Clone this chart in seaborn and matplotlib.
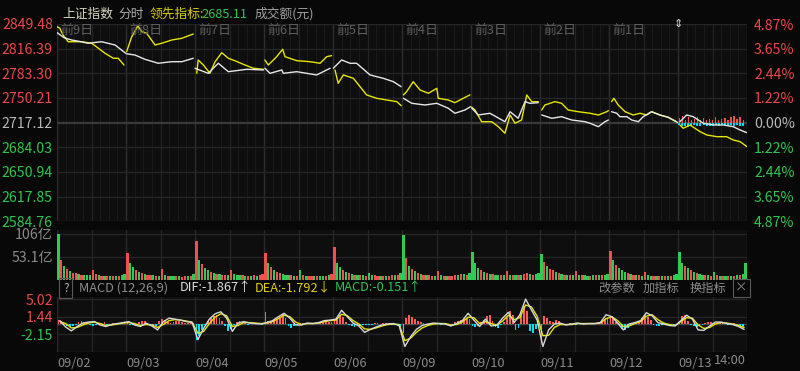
import numpy as np
import pandas as pd
import matplotlib
matplotlib.use("Agg")
import matplotlib.pyplot as plt
import seaborn as sns

sns.set_theme(style="dark")
plt.rcParams['font.family'] = ['Noto Sans CJK SC', 'DejaVu Sans']
plt.rcParams['axes.unicode_minus'] = False

# ---------------- data ----------------
day_labels = ['09/02', '09/03', '09/04', '09/05', '09/06', '09/09', '09/10', '09/11', '09/12', '09/13']
prev_labels = ['前9日', '前8日', '前7日', '前6日', '前5日', '前4日', '前3日', '前2日', '前1日']
price_ticks = [2849.48, 2816.39, 2783.30, 2750.21, 2717.12, 2684.03, 2650.94, 2617.85, 2584.76]
pct_labels = ['4.87%', '3.65%', '2.44%', '1.22%', '0.00%', '1.22%', '2.44%', '3.65%', '4.87%']
base_price = 2717.12

# 上证指数 (white), minute index over 10 sessions (240 min each)
idx_t = [0, 25, 51, 80, 108, 155, 202, 239,
         242, 271, 306, 352, 399, 434, 474,
         480, 526, 561, 596, 660, 718,
         723, 741, 782, 787, 834, 903, 950,
         961, 990, 1019, 1042, 1089, 1135, 1170, 1197,
         1205, 1234, 1280, 1321, 1361, 1384, 1419, 1438,
         1442, 1465, 1506, 1558, 1576, 1604, 1628, 1645, 1674,
         1686, 1721, 1755, 1790, 1836, 1854, 1883, 1906, 1918,
         1929, 1947, 1958, 1982, 1999, 2022, 2039, 2068, 2097, 2126, 2159,
         2167, 2190, 2213, 2248, 2283, 2318, 2352, 2376, 2399]
idx_v = [2838.0, 2831.0, 2828.0, 2826.0, 2823.6, 2825.7, 2821.3, 2810.2,
         2809.5, 2807.9, 2802.1, 2796.8, 2798.9, 2798.9, 2803.5,
         2790.1, 2783.3, 2796.8, 2785.5, 2788.7, 2787.8,
         2790.1, 2783.3, 2787.8, 2783.3, 2785.5, 2781.1, 2790.1,
         2790.1, 2801.2, 2796.8, 2796.8, 2781.1, 2776.6, 2772.1, 2765.4,
         2749.8, 2743.1, 2740.8, 2743.1, 2736.4, 2729.7, 2734.1, 2738.5,
         2737.0, 2727.4, 2729.7, 2718.4, 2731.8, 2723.0, 2745.3, 2743.1, 2743.9,
         2727.4, 2723.0, 2725.1, 2720.7, 2718.4, 2716.3, 2711.7, 2718.4, 2720.7,
         2731.8, 2729.7, 2725.1, 2725.1, 2720.7, 2718.4, 2725.1, 2731.8, 2727.4, 2724.3, 2717.1,
         2718.4, 2727.4, 2725.1, 2716.3, 2714.0, 2714.0, 2711.7, 2707.3, 2703.7]

# 领先指标 (yellow)
lead_t = [0, 10, 21, 39, 86, 121, 144, 167, 196, 213, 233,
          242, 260, 281, 295, 312, 341, 364, 399, 434, 474,
          486, 491, 509, 532, 550, 573, 596, 620, 648, 683, 718,
          723, 735, 764, 785, 793, 834, 880, 915, 938, 955,
          967, 978, 996, 1031, 1077, 1112, 1147, 1182, 1197,
          1205, 1216, 1239, 1263, 1292, 1321, 1326, 1361, 1384, 1413, 1436,
          1442, 1454, 1477, 1512, 1535, 1558, 1576, 1593, 1616, 1634, 1651, 1674,
          1686, 1697, 1732, 1755, 1778, 1813, 1854, 1883, 1912, 1918,
          1929, 1937, 1952, 1976, 2004, 2028, 2051, 2068, 2097, 2126, 2155,
          2167, 2178, 2202, 2237, 2260, 2295, 2329, 2352, 2376, 2399]
lead_v = [2845.9, 2843.7, 2834.7, 2825.7, 2825.7, 2823.6, 2816.9, 2810.2, 2803.5, 2803.5, 2794.5,
          2812.3, 2832.4, 2846.8, 2839.2, 2837.0, 2821.3, 2823.6, 2828.0, 2830.3, 2836.1,
          2783.3, 2801.2, 2794.5, 2783.3, 2798.9, 2811.0, 2803.5, 2800.0, 2795.4, 2790.1, 2788.7,
          2801.2, 2794.5, 2805.6, 2815.6, 2805.6, 2800.3, 2798.9, 2796.8, 2805.6, 2807.0,
          2787.8, 2769.9, 2781.1, 2776.6, 2754.3, 2749.8, 2747.5, 2745.3, 2739.9,
          2754.3, 2758.7, 2772.1, 2760.9, 2756.5, 2763.2, 2749.8, 2747.5, 2743.9, 2749.8, 2754.3,
          2738.0, 2734.1, 2718.4, 2718.4, 2711.7, 2702.9, 2727.4, 2716.3, 2720.7, 2754.3, 2745.3, 2745.3,
          2734.1, 2740.8, 2745.3, 2743.1, 2734.1, 2731.8, 2729.7, 2727.4, 2731.8, 2733.2,
          2745.3, 2749.8, 2740.8, 2731.8, 2727.4, 2729.7, 2727.4, 2731.8, 2727.4, 2724.3, 2718.4,
          2713.9, 2709.6, 2713.9, 2705.0, 2700.6, 2698.3, 2698.3, 2693.9, 2691.6, 2685.11]

# last-session buy / sell bars around the base line (points)
buy_bars = [6, 9, 4, 7, 3, 5, 8, 4, 6, 3, 5, 4, 7, 3, 5, 6, 4, 7, 9, 5, 8, 4]
sell_bars = [-3, -5, -4, -6, -4, -3, -5, -4, -3, -4, -5, -4, -3, -4, -3, -4, -5, -3, -4, -3, -4, -5]

# 成交额 (亿), 24 buckets per session
vol_d1 = [106, 45, 32, 26, 20, 17, 15, 13, 12, 12, 11, 11, 22, 13, 11, 10, 10, 9, 9, 10, 9, 10, 11, 14]
vol_d2 = [63, 38, 30, 24, 19, 15, 13, 12, 11, 11, 10, 10, 26, 12, 10, 10, 9, 9, 9, 8, 9, 9, 10, 13]
vol_d3 = [90, 45, 36, 28, 22, 18, 15, 14, 13, 12, 12, 11, 24, 13, 12, 11, 11, 10, 10, 10, 11, 10, 11, 14]
vol_d4 = [63, 40, 30, 24, 19, 16, 14, 12, 11, 11, 10, 10, 23, 12, 10, 10, 9, 9, 9, 9, 10, 10, 11, 14]
vol_d5 = [75, 40, 30, 24, 19, 15, 13, 12, 12, 11, 11, 10, 16, 12, 11, 10, 10, 10, 10, 10, 11, 11, 12, 15]
vol_d6 = [103, 50, 32, 26, 20, 16, 14, 12, 11, 11, 10, 10, 20, 11, 10, 10, 10, 10, 11, 12, 14, 13, 12, 15]
vol_d7 = [65, 38, 28, 24, 19, 16, 14, 13, 12, 11, 11, 11, 20, 12, 12, 11, 11, 12, 14, 16, 13, 12, 13, 16]
vol_d8 = [60, 42, 32, 26, 22, 18, 15, 13, 12, 12, 11, 11, 20, 12, 11, 11, 10, 10, 11, 11, 12, 11, 11, 13]
vol_d9 = [67, 45, 34, 27, 22, 18, 15, 13, 12, 11, 11, 10, 19, 11, 10, 10, 10, 9, 10, 10, 10, 10, 11, 14]
vol_d10 = [65, 40, 32, 27, 22, 18, 15, 13, 12, 11, 11, 10, 18, 11, 10, 10, 10, 10, 10, 10, 11, 11, 13, 40]
vol_dir = ['grgrgrrg' + 'rgggrrgr' + 'grgrgrgg',
           'rggrgrgr' + 'rgrgrgrg' + 'grgrrgrg',
           'rgrggrgr' + 'grrgrggg' + 'rgrgrgrr',
           'rgrgrrgg' + 'grgrgrgr' + 'rgrggrgr',
           'rggrgrgr' + 'grgrggrr' + 'grgrrgrg',
           'grgrgrgr' + 'grrgrgrg' + 'rrrgrgrg',
           'gggrgrgr' + 'ggrgrgrg' + 'rgrrgrgg',
           'grgrrgrg' + 'rgrgrgrg' + 'grgrgrgg',
           'rgrgggrg' + 'rgrgrggr' + 'grgrgrgg',
           'ggrgrgrg' + 'grgrgrgr' + 'grgrgrgg']

# MACD: DIF / DEA (12 samples per session), histogram (24 per session)
dif_d = [[0.6, -0.7, -1.5, -0.6, 0.1, 0.3, 0.4, -0.3, -0.6, -0.2, 0.0, 0.2],
         [0.4, -0.3, -0.6, 0.1, -0.5, -1.3, 0.4, 1.1, 0.9, 0.7, 0.4, 0.2],
         [-3.3, -1.0, 0.9, 2.0, 2.4, 1.1, -1.6, 0.1, 0.4, 0.1, 0.0, -0.1],
         [0.2, 0.6, 1.4, 2.1, 1.1, -0.3, -0.3, 0.1, 0.0, 0.2, 0.6, 0.7],
         [0.9, 2.7, 1.4, 0.1, -0.5, -1.8, -1.2, -0.7, -0.3, -0.1, 0.0, -0.4],
         [-4.7, -2.7, -1.2, -0.4, -0.1, 0.1, 0.0, -0.1, -0.5, 0.0, 0.6, 2.1],
         [0.7, -0.6, 0.9, -0.5, -0.3, 1.1, 2.3, 0.2, 1.8, 5.0, 2.8, 0.7],
         [-4.7, -1.3, -0.1, 0.1, -0.3, -0.1, 0.1, -0.1, 0.0, 0.0, 0.2, 1.8],
         [1.4, 0.1, -1.3, -0.1, 0.2, 0.6, 2.2, 1.6, 0.2, -0.1, -0.4, -0.5],
         [0.6, 1.7, 0.9, -1.3, -1.4, -0.5, 0.3, 0.3, 0.0, -0.2, -0.6, -1.2]]
dea_d = [[0.4, 0.0, -0.9, -0.8, -0.3, 0.1, 0.3, 0.0, -0.4, -0.3, -0.1, 0.1],
         [0.2, 0.0, -0.4, -0.2, -0.3, -0.8, -0.2, 0.6, 0.8, 0.7, 0.5, 0.3],
         [-2.0, -1.6, 0.0, 1.3, 2.0, 1.6, -0.6, -0.4, 0.2, 0.2, 0.1, 0.0],
         [0.1, 0.4, 1.0, 1.7, 1.4, 0.3, -0.2, 0.0, 0.0, 0.1, 0.4, 0.6],
         [0.7, 1.9, 1.6, 0.6, -0.1, -1.1, -1.2, -0.9, -0.5, -0.2, -0.1, -0.2],
         [-3.5, -3.0, -1.8, -0.9, -0.4, -0.1, 0.0, 0.0, -0.3, -0.2, 0.3, 1.3],
         [1.2, 0.0, 0.4, 0.0, -0.3, 0.5, 1.7, 0.8, 1.2, 3.8, 3.4, 1.5],
         [-2.5, -2.4, -0.8, -0.2, -0.2, -0.2, 0.0, 0.0, 0.0, 0.0, 0.1, 1.0],
         [1.4, 0.6, -0.6, -0.5, 0.0, 0.4, 1.5, 1.8, 0.8, 0.1, -0.2, -0.4],
         [0.4, 1.2, 1.1, -0.3, -1.0, -0.8, -0.1, 0.2, 0.1, -0.1, -0.4, -0.8]]
hist_d = [[0.8, 0.6, 0.2, -0.5, -0.8, -0.6, -0.2, 0.3, 0.5, 0.4, 0.2, -0.2, -0.5, -0.4, -0.1, 0.2, 0.3, -0.2, -0.3, 0.1, 0.2, 0.1, 0.2, 0.3],
          [0.3, -0.2, -0.4, -0.3, 0.3, 0.6, 0.5, -0.3, -0.5, -0.8, -0.5, 0.5, 0.9, 0.7, 0.4, 0.2, 0.3, 0.5, 0.6, 0.3, 0.1, 0.2, 0.1, 0.1],
          [-3.3, -2.6, -1.4, -0.4, 0.6, 1.2, 1.6, 1.8, 1.2, 0.6, -0.5, -1.6, -1.2, -0.4, 0.3, 0.5, 0.3, 0.1, -0.2, -0.1, 0.1, 0.2, -0.1, -0.2],
          [2.4, 0.6, 0.3, 0.5, 0.8, 1.4, 2.0, 1.2, -0.6, -1.0, -0.6, -0.2, 0.1, 0.2, 0.1, -0.1, 0.1, 0.2, 0.1, 0.2, 0.4, 0.5, 0.4, 0.3],
          [0.6, 1.2, 1.8, 1.3, 0.4, -0.3, -0.6, -0.8, -0.6, -0.5, -0.3, -0.2, -0.4, -0.2, 0.2, 0.1, -0.1, 0.1, 0.2, 0.1, -0.2, -0.4, -0.6, -0.8],
          [-2.0, 1.2, 1.8, 1.4, 1.0, 0.6, 0.3, 0.2, -0.2, -0.3, 0.1, 0.2, 0.1, -0.2, 0.1, 0.2, -0.4, -0.6, 0.3, 0.5, 0.8, 0.9, 1.2, 1.0],
          [-0.5, -0.8, -0.6, 0.3, 0.8, 1.6, 1.8, 0.5, -0.7, -0.9, -0.3, 0.4, 1.6, 2.5, 1.8, -1.3, -0.9, 1.8, 3.5, 2.6, -1.6, -2.0, -1.2, -0.6],
          [-4.0, 1.6, 1.2, 0.6, 0.3, 0.8, 0.5, 0.2, -0.3, -0.2, 0.1, 0.2, -0.2, -0.1, 0.1, 0.2, 0.1, -0.1, 0.1, 0.2, 0.4, 0.6, 0.9, 1.2],
          [1.6, 1.2, 0.3, -0.4, -1.1, -1.3, -0.9, -0.2, 0.2, 0.3, 0.6, 1.2, 1.8, 1.4, 0.8, -0.2, -0.5, -0.6, -0.4, -0.2, -0.1, -0.2, -0.3, -0.2],
          [0.5, 1.6, 1.8, 0.6, -0.3, -0.6, -0.8, -0.6, -0.2, 0.2, 0.4, 0.3, 0.2, 0.1, 0.2, 0.1, -0.1, -0.2, -0.1, 0.2, -0.3, -0.6, -0.8, -0.15]]
macd_ticks = [5.02, 1.44, -2.15]
vol_ticks = [106, 53.1]
vol_tick_labels = ['106亿', '53.1亿']

# ---------------- style ----------------
BG = '#080808'
PANEL = '#0e0e0e'
RED = '#e84848'
GREEN = '#2fc452'
GRAY = '#b8b8b8'
DIM = '#8a8a8a'
YEL = '#e6e600'
WHITE = '#e6e6e6'
SESSION = 240
NDAYS = 10
TOTAL = SESSION * NDAYS
AX_FS = 10.2

W, H = 800, 371
fig = plt.figure(figsize=(W / 100, H / 100), dpi=100, facecolor=BG)


def axes_px(x0, y0, x1, y1):
    return fig.add_axes([x0 / W, 1 - y1 / H, (x1 - x0) / W, (y1 - y0) / H])


def style_axes(ax):
    ax.set_facecolor(PANEL)
    for s in ax.spines.values():
        s.set_visible(False)
    ax.grid(False)
    ax.set_xlim(0, TOTAL)
    ax.set_xlabel('')
    ax.set_ylabel('')


def vgrid(ax, step, major_col, minor_col, half_col):
    for m in range(0, TOTAL + 1, step):
        if m % SESSION == 0:
            c, lw = major_col, 1.0
        elif m % (SESSION // 2) == 0:
            c, lw = half_col, 0.9
        else:
            c, lw = minor_col, 0.8
        ax.axvline(m, color=c, lw=lw, zorder=0)


# ---------------- main price panel ----------------
ax = axes_px(57, 24, 747, 221.3)
style_axes(ax)
ax.set_ylim(price_ticks[-1], price_ticks[0])
vgrid(ax, 30, '#2e2e2e', '#1a1a1a', '#242424')
for v in price_ticks:
    ax.axhline(v, color='#3a3a3a' if v == base_price else '#262626',
               lw=1.6 if v == base_price else 0.9, zorder=0)

idx_df = pd.DataFrame({'t': idx_t, 'v': idx_v})
idx_df['day'] = (idx_df['t'] // SESSION).clip(upper=NDAYS - 1)
lead_df = pd.DataFrame({'t': lead_t, 'v': lead_v})
lead_df['day'] = (lead_df['t'] // SESSION).clip(upper=NDAYS - 1)

# last-session bars around base line
bt = [SESSION * (NDAYS - 1) + 4 + i * 10.6 for i in range(len(buy_bars))]
ax.bar(bt, sell_bars, bottom=base_price, width=7, color='#00d8f0', zorder=2, linewidth=0)
ax.bar(bt, buy_bars, bottom=base_price, width=4.5, color='#f05050', zorder=2, linewidth=0)

sns.lineplot(data=lead_df, x='t', y='v', units='day', estimator=None, color=YEL,
             lw=1.0, ax=ax, zorder=3)
sns.lineplot(data=idx_df, x='t', y='v', units='day', estimator=None, color=WHITE,
             lw=1.0, ax=ax, zorder=4)
ax.set_xlabel('')
ax.set_ylabel('')
ax.set_xticks([])
ax.set_yticks(price_ticks)
ax.set_yticklabels([f'{v:.2f}' for v in price_ticks])
ax.tick_params(axis='y', length=0, pad=3, labelsize=AX_FS)
for lbl, v in zip(ax.get_yticklabels(), price_ticks):
    lbl.set_color(RED if v > base_price else (GREEN if v < base_price else GRAY))

axr = ax.twinx()
axr.set_ylim(price_ticks[-1], price_ticks[0])
axr.set_yticks(price_ticks)
axr.set_yticklabels(pct_labels)
axr.tick_params(axis='y', length=0, pad=5, labelsize=AX_FS)
axr.grid(False)
for s in axr.spines.values():
    s.set_visible(False)
for lbl, v in zip(axr.get_yticklabels(), price_ticks):
    lbl.set_color(RED if v > base_price else (GREEN if v < base_price else GRAY))

for i, lab in enumerate(prev_labels):
    ax.text(i * SESSION + 10, 2849.48 - 8.5, lab, color='#5e5e5e', fontsize=9.3,
            ha='left', va='center', zorder=5)
ax.text(SESSION * (NDAYS - 1) + 2, price_ticks[0], '⇕', color='#dcdcdc', fontsize=8,
        ha='center', va='center', family=['DejaVu Sans'], zorder=6, clip_on=False)

# ---------------- volume panel ----------------
axv = axes_px(57, 230, 747, 280)
style_axes(axv)
axv.set_ylim(0, 115)
vgrid(axv, 120, '#2a2a2a', '#2a2a2a', '#262626')
for v in vol_ticks:
    axv.axhline(v, color='#262626', lw=0.9, zorder=0)
vols = [vol_d1, vol_d2, vol_d3, vol_d4, vol_d5, vol_d6, vol_d7, vol_d8, vol_d9, vol_d10]
vx, vh, vc = [], [], []
for d in range(NDAYS):
    for i, val in enumerate(vols[d]):
        vx.append(d * SESSION + i * 10 + 5)
        vh.append(val)
        vc.append('#f05050' if vol_dir[d][i] == 'r' else '#2ecc55')
axv.bar(vx, vh, width=7.5, color=vc, zorder=2, linewidth=0)
axv.set_xticks([])
axv.set_yticks(vol_ticks)
axv.set_yticklabels(vol_tick_labels)
axv.tick_params(axis='y', length=0, pad=3, labelsize=AX_FS, labelcolor=DIM)

# ---------------- MACD panel ----------------
axm = axes_px(57, 297, 747, 351.5)
style_axes(axm)
axm.set_ylim(-5.72, 5.43)
vgrid(axm, 120, '#2a2a2a', '#2a2a2a', '#262626')
for v in macd_ticks + [-5.72]:
    axm.axhline(v, color='#262626', lw=0.9, zorder=0)
axm.axhline(0, color='#4a4a4a', lw=1.0, zorder=1)

hx, hv, hc = [], [], []
for d in range(NDAYS):
    for i, val in enumerate(hist_d[d]):
        hx.append(d * SESSION + i * 10 + 5)
        hv.append(val)
        hc.append('#ff5c5c' if val >= 0 else '#00e0ff')
axm.bar(hx, hv, width=6.5, color=hc, zorder=2, linewidth=0)

mt, mdif, mdea = [], [], []
for d in range(NDAYS):
    for i in range(12):
        mt.append(d * SESSION + i * 20 + 10)
        mdif.append(dif_d[d][i])
        mdea.append(dea_d[d][i])
mdf = pd.DataFrame({'t': mt, 'DIF': mdif, 'DEA': mdea})
sns.lineplot(data=mdf, x='t', y='DEA', color='#e5e500', lw=1.0, ax=axm, zorder=3)
sns.lineplot(data=mdf, x='t', y='DIF', color='#d8d8d8', lw=1.0, ax=axm, zorder=4)
axm.set_xlabel('')
axm.set_ylabel('')
axm.set_yticks(macd_ticks)
axm.set_yticklabels([f'{v:.2f}' for v in macd_ticks])
axm.tick_params(axis='y', length=0, pad=3, labelsize=AX_FS)
for lbl, v in zip(axm.get_yticklabels(), macd_ticks):
    lbl.set_color(RED if v > 0 else GREEN)
axm.set_xticks([d * SESSION for d in range(NDAYS)])
axm.set_xticklabels(day_labels)
axm.tick_params(axis='x', length=0, pad=4, labelsize=9.2, labelcolor=DIM)
for lbl in axm.get_xticklabels():
    lbl.set_ha('left')


# ---------------- header / footer texts ----------------
def ftext(x, y, s, color, size=9.2, ha='left', **kw):
    fig.text(x / W, 1 - y / H, s, color=color, fontsize=size, ha=ha, va='center', **kw)


ftext(746, 360.5, '14:00', DIM, ha='right')

ftext(62, 14, '上证指数', '#d4d4bc')
ftext(118, 14, '分时', '#a8a8a8')
ftext(150, 14, '领先指标:', '#d8d000')
ftext(201, 14, '2685.11', GREEN)
ftext(255, 14, '成交额(元)', '#a0a0a0')

ftext(63, 288, '?', '#b0b0b0', size=8.5,
      bbox=dict(boxstyle='square,pad=0.3', fc='none', ec='#5a5a5a', lw=0.8))
ftext(79, 288, 'MACD (12,26,9)', '#8c8c8c')
ftext(180, 288, 'DIF:-1.867↑', '#dcdcdc')
ftext(255, 288, 'DEA:-1.792↓', '#e0d000')
ftext(335, 288, 'MACD:-0.151↑', GREEN)
ftext(598, 288, '改参数', '#8c8c8c', size=8.8)
ftext(643, 288, '加指标', '#8c8c8c', size=8.8)
ftext(690, 288, '换指标', '#8c8c8c', size=8.8)
ftext(735, 288, '×', '#8c8c8c', size=9,
      bbox=dict(boxstyle='square,pad=0.2', fc='none', ec='#5a5a5a', lw=0.8))

fig.savefig('out.png', dpi=100, facecolor=BG)
